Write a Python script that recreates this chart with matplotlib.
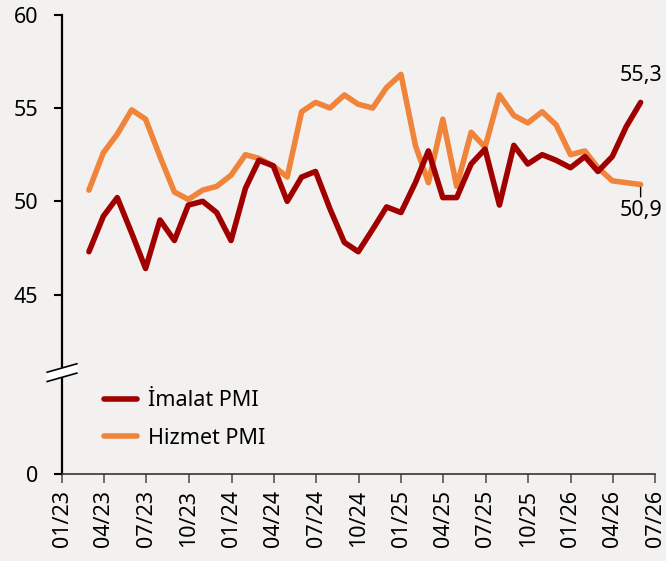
#importing libraries
from matplotlib import pyplot as plt
from matplotlib import transforms
import matplotlib.dates as mdates
import pandas as pd

plt.rcParams['font.family'] = ['Noto Sans', 'DejaVu Sans']

#monthly data (end of month), 02/23 - 05/26
MONTHS = pd.date_range("2023-02-28", periods=40, freq="ME")

imalat = [47.3, 49.2, 50.2, 48.3, 46.4, 49.0, 47.9, 49.8, 50.0, 49.4,
          47.9, 50.7, 52.2, 51.9, 50.0, 51.3, 51.6, 49.6, 47.8, 47.3,
          48.5, 49.7, 49.4, 51.0, 52.7, 50.2, 50.2, 52.0, 52.8, 49.8,
          53.0, 52.0, 52.5, 52.2, 51.8, 52.4, 51.6, 52.4, 54.0, 55.3]

hizmet = [50.6, 52.6, 53.6, 54.9, 54.4, 52.4, 50.5, 50.1, 50.6, 50.8,
          51.4, 52.5, 52.3, 51.9, 51.3, 54.8, 55.3, 55.0, 55.7, 55.2,
          55.0, 56.1, 56.8, 53.0, 51.0, 54.4, 50.8, 53.7, 52.9, 55.7,
          54.6, 54.2, 54.8, 54.1, 52.5, 52.7, 51.8, 51.1, 51.0, 50.9]

LABELS = ["İmalat PMI", "Hizmet PMI"]
COLORS = ["#A00000", "#F0843A"]

#y axis is broken: the bottom of the axis stands for 0
Y_BOTTOM = 35.39
Y_BREAK = 40.82
Y_TICKS = [Y_BOTTOM, 45, 50, 55, 60]
Y_TICK_LABELS = ["0", "45", "50", "55", "60"]

BG = "#F2F1EF"

fig = plt.figure(figsize=(6.66, 5.61), dpi=100, facecolor=BG)
ax = fig.add_axes([0.0931, 0.1551, 0.8904, 0.8187])
ax.set_facecolor(BG)

ax.plot(MONTHS, imalat, color=COLORS[0], lw=4, label=LABELS[0],
        solid_capstyle="round", solid_joinstyle="round", zorder=3)
ax.plot(MONTHS, hizmet, color=COLORS[1], lw=4, label=LABELS[1],
        solid_capstyle="round", solid_joinstyle="round", zorder=2)

#axes limits and ticks
ax.set_ylim(Y_BOTTOM, 60)
ax.set_yticks(Y_TICKS)
ax.set_yticklabels(Y_TICK_LABELS)
ax.set_xlim(pd.Timestamp("2023-01-01"), pd.Timestamp("2026-07-01"))
ax.set_xticks(pd.date_range("2023-01-01", "2026-07-01", freq="QS"))
ax.xaxis.set_major_formatter(mdates.DateFormatter("%m/%y"))

for lab in ax.get_xticklabels():
    lab.set_rotation(90)

ax.tick_params(axis="y", length=6, width=1.5, color="black", labelsize=15.5, pad=11)
ax.tick_params(axis="x", length=6.5, width=1.2, color="#555555", labelsize=15.5, pad=5)

ax.spines["top"].set_visible(False)
ax.spines["right"].set_visible(False)
ax.spines["left"].set_linewidth(1.6)
ax.spines["left"].set_color("black")
ax.spines["bottom"].set_linewidth(1.2)
ax.spines["bottom"].set_color("#333333")

#break marker on the y axis
trans = transforms.blended_transform_factory(ax.transAxes, ax.transData)
half_w = 0.025
slant = 0.225
thick = 0.25
bx = [-half_w, half_w, half_w, -half_w]
by = [Y_BREAK - slant + thick, Y_BREAK + slant + thick,
      Y_BREAK + slant - thick, Y_BREAK - slant - thick]
ax.fill(bx, by, color="white", transform=trans, clip_on=False, zorder=5)
ax.plot([-half_w, half_w], [Y_BREAK - slant + thick, Y_BREAK + slant + thick],
        color="black", lw=1.2, transform=trans, clip_on=False, zorder=6)
ax.plot([-half_w, half_w], [Y_BREAK - slant - thick, Y_BREAK + slant - thick],
        color="black", lw=1.2, transform=trans, clip_on=False, zorder=6)

#last values
ax.annotate(f"{imalat[-1]:.1f}".replace(".", ","), xy=(MONTHS[-1], imalat[-1]),
            xytext=(0, 19.5), textcoords="offset points", ha="center", va="center",
            fontsize=15.5)
ax.annotate(f"{hizmet[-1]:.1f}".replace(".", ","), xy=(MONTHS[-1], hizmet[-1]),
            xytext=(0, -18.5), textcoords="offset points", ha="center", va="center",
            fontsize=15.5,
            arrowprops=dict(arrowstyle="-", color="black", lw=1, shrinkA=0, shrinkB=2))

leg = ax.legend(loc="upper left", bbox_to_anchor=(0.071, 0.182), frameon=False,
                fontsize=15.5, handlelength=1.55, handletextpad=0.5,
                labelspacing=0.75, borderpad=0, borderaxespad=0)

fig.savefig("out.png", dpi=100, facecolor=BG)
